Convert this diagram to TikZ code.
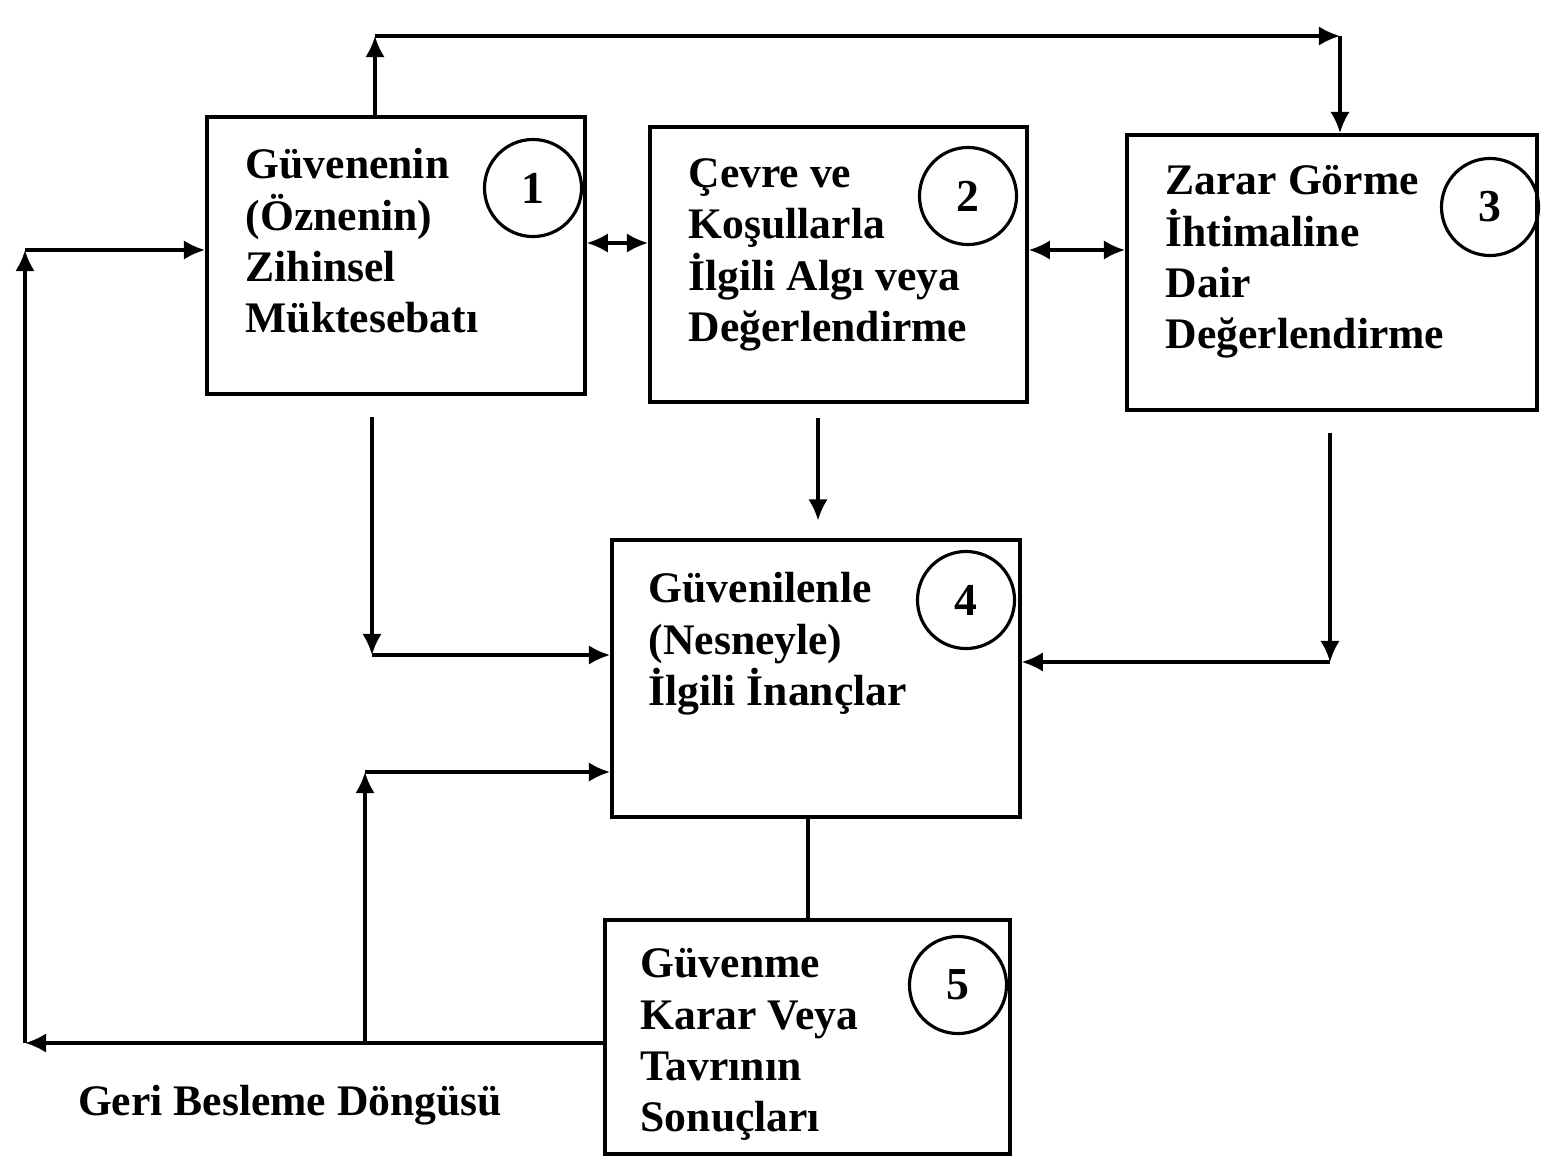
\documentclass[tikz,border=0pt]{standalone}
\usepackage{fontspec}
\setmainfont{Liberation Serif}
\usetikzlibrary{arrows.meta}
\begin{document}
\begin{tikzpicture}[x=0.01cm,y=-0.01cm,
  box/.style={draw,line width=1pt,inner sep=0,anchor=north west},
  num/.style={draw,circle,line width=0.9pt,minimum size=0.97cm,inner sep=0,font=\fontsize{13}{15}\selectfont\bfseries},
  lbl/.style={anchor=north west,align=left,inner sep=0,font=\fontsize{12.4}{14.6}\selectfont\bfseries},
  conn/.style={line width=0.9pt},
  arr/.style={conn,-{Latex[length=6pt,width=5.5pt]}},
  darr/.style={conn,{Latex[length=6pt,width=5.5pt]}-{Latex[length=6pt,width=5.5pt]}}]
\useasboundingbox (0,0) rectangle (1543,1157);
% boxes
\node[box,minimum width=3.78cm,minimum height=2.77cm] (b1) at (205,115) {};
\node[box,minimum width=3.77cm,minimum height=2.75cm] (b2) at (648,125) {};
\node[box,minimum width=4.10cm,minimum height=2.75cm] (b3) at (1125,133) {};
\node[box,minimum width=4.08cm,minimum height=2.77cm] (b4) at (610,538) {};
\node[box,minimum width=4.05cm,minimum height=2.34cm] (b5) at (603,918) {};
% texts
\node[lbl] (t1) at (245,148) {Güvenenin\\(Öznenin)\\Zihinsel\\Müktesebatı};
\node[lbl] (t2) at (688,158) {Çevre ve\\Koşullarla\\İlgili Algı veya\\Değerlendirme};
\node[lbl] (t3) at (1165,165) {Zarar Görme\\İhtimaline\\Dair\\Değerlendirme};
\node[lbl] (t4) at (648,572) {Güvenilenle\\(Nesneyle)\\İlgili İnançlar};
\node[lbl] (t5) at (640,948) {Güvenme\\Karar Veya\\Tavrının\\Sonuçları};
% numbers
\node[num] (n1) at (533,188) {1};
\node[num] (n2) at (968,196) {2};
\node[num] (n3) at (1490,207) {3};
\node[num] (n4) at (966,600) {4};
\node[num] (n5) at (958,985) {5};
% top loop
\coordinate (tl) at (375,36);
\coordinate (tr) at (1340,36);
\draw[arr] (tl |- b1.north) -- (tl);
\draw[arr] (tl) -- (tr);
\draw[arr] (tr) -- (tr |- b3.north);
% double arrows
\coordinate (y12) at (0,243);
\coordinate (y23) at (0,250);
\draw[darr] (b1.east |- y12) -- (b2.west |- y12);
\draw[darr] (b2.east |- y23) -- (b3.west |- y23);
% box2 -> box4
\coordinate (c24) at (818,0);
\draw[arr,shorten <=4pt,shorten >=5pt] (c24 |- b2.south) -- (c24 |- b4.north);
% box1 -> box4
\coordinate (k1) at (372,655);
\draw[arr,shorten <=6pt] (k1 |- b1.south) -- (k1);
\draw[arr] (k1) -- (k1 -| b4.west);
% box3 -> box4
\coordinate (k3) at (1330,662);
\draw[arr,shorten <=6pt] (k3 |- b3.south) -- (k3);
\draw[arr] (k3) -- (k3 -| b4.east);
% box4 - box5
\coordinate (c45) at (808,0);
\draw[conn] (c45 |- b4.south) -- (c45 |- b5.north);
% feedback loop
\coordinate (f0) at (0,1043);
\coordinate (fl) at (25,1043);
\coordinate (fm) at (365,1043);
\coordinate (fu) at (365,772);
\coordinate (ft) at (25,250);
\draw[arr] (f0 -| b5.west) -- (fl);
\draw[arr] (fm) -- (fu);
\draw[arr] (fu) -- (fu -| b4.west);
\draw[arr] (fl) -- (ft);
\draw[arr] (ft) -- (ft -| b1.west);
\node[font=\fontsize{12.4}{14.6}\selectfont\bfseries] (fb) at (290,1105) {Geri Besleme Döngüsü};
\end{tikzpicture}
\end{document}
